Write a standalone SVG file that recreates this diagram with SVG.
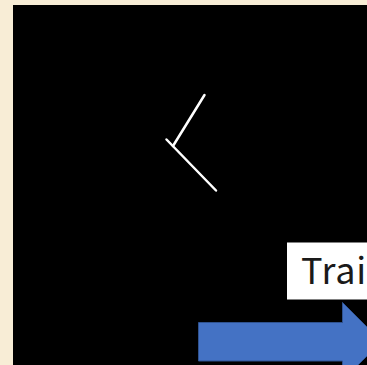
<svg xmlns="http://www.w3.org/2000/svg" width="367" height="365" viewBox="0 0 367 365">
<style>
.stroke{stroke:#FFFFFF;stroke-width:2.5;stroke-linecap:round;fill:none}
.label{font-family:"Noto Sans CJK JP","Noto Sans","Open Sans","Liberation Sans",sans-serif;font-size:36px;font-weight:400;letter-spacing:0.8px;fill:#1a1a1a}
</style>
<rect x="0" y="0" width="367" height="365" fill="#F8EDD6"/>
<rect x="13" y="5" width="354" height="360" fill="#000000"/>
<g id="mark">
<line class="stroke" x1="204.5" y1="95" x2="173" y2="146"/>
<line class="stroke" x1="166.5" y1="139.5" x2="216" y2="190.5"/>
</g>
<g id="label-box">
<rect x="287" y="242.5" width="80" height="57" fill="#FFFFFF"/>
<text class="label" x="301" y="283.5">Trai</text>
</g>
<g id="arrow">
<path d="M198.5,322.5 H342.5 V302.5 L381.5,341.5 L342.5,380.5 V361 H198.5 Z" fill="#4472C4" stroke="#2F528F" stroke-width="1"/>
</g>
</svg>
